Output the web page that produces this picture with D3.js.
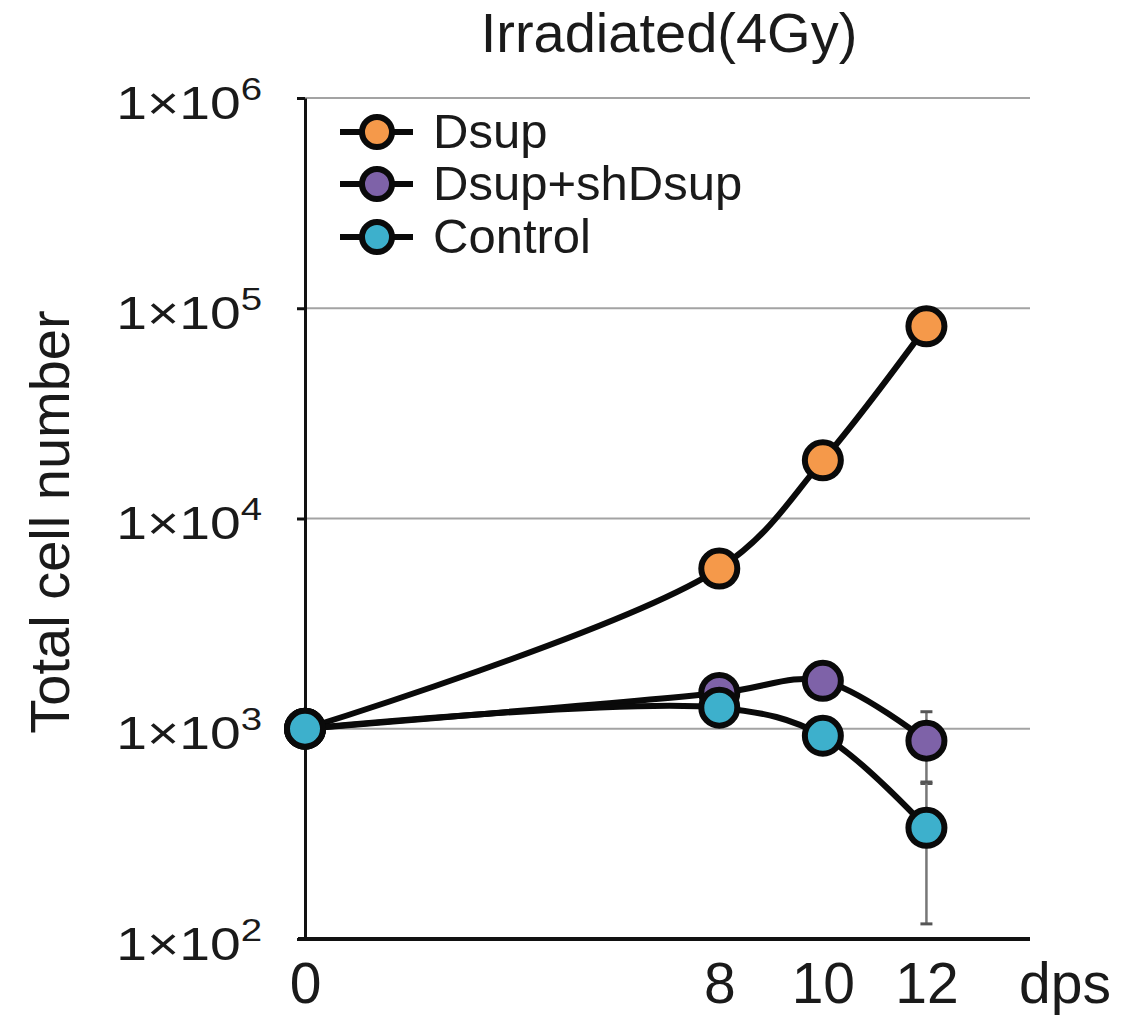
<!DOCTYPE html>
<html>
<head>
<meta charset="utf-8">
<script src="https://cdn.jsdelivr.net/npm/d3@7"></script>
<style>
  html, body { margin: 0; padding: 0; background: #fff; }
  svg { display: block; }
  text { font-family: "Liberation Sans", Arial, Helvetica, sans-serif; fill: #1a1a1a; }
</style>
</head>
<body>
<svg id="chart" width="1142" height="1015"></svg>
<script>
// ---- data ----
const days = [0, 8, 10, 12];
const xTickLabels = ["0", "8", "10", "12"];
const yTickValues = [1e2, 1e3, 1e4, 1e5, 1e6];
const yTickExponents = ["2", "3", "4", "5", "6"];
const seriesNames = ["Dsup", "Dsup+shDsup", "Control"];
const seriesColors = ["#F5994A", "#7E62A8", "#3DB0CC"];
const dsupValues = [1000, 5780, 18900, 82000];
const shDsupValues = [1000, 1480, 1690, 877];
const controlValues = [1000, 1260, 926, 338];
const dsupErrors = [0, 0, 0, 0];
const shDsupErrors = [0, 0, 0, 328];
const controlErrors = [0, 0, 0, 220];
const titleText = "Irradiated(4Gy)";
const yAxisTitle = "Total cell number";
const xUnitLabel = "dps";

const seriesValues = [dsupValues, shDsupValues, controlValues];
const seriesErrors = [dsupErrors, shDsupErrors, controlErrors];

// ---- layout ----
const svg = d3.select("#chart");
const x = d3.scaleLinear().domain([0, 14]).range([305, 1030]);
const y = d3.scaleLog().domain([1e2, 1e6]).range([939, 98]);

// gridlines
svg.append("g")
  .selectAll("line")
  .data(yTickValues.slice(1))
  .join("line")
  .attr("x1", x(0)).attr("x2", x(14))
  .attr("y1", d => y(d)).attr("y2", d => y(d))
  .attr("stroke", "#a3a3a3").attr("stroke-width", 2);

// y axis
const yAxis = d3.axisLeft(y).tickValues(yTickValues).tickSize(8).tickSizeOuter(0).tickFormat(() => "");
const gy = svg.append("g").attr("transform", `translate(${x(0)},0)`).call(yAxis);
gy.select(".domain").attr("stroke", "#111").attr("stroke-width", 3);
gy.selectAll(".tick line").attr("stroke", "#111").attr("stroke-width", 3);
gy.selectAll(".tick").each(function(d, i) {
  const g = d3.select(this).append("g").attr("transform", "translate(-43,20) scale(1.2,1)");
  const t = g.append("text").attr("text-anchor", "end").attr("font-size", 46);
  t.append("tspan").text("1×10");
  t.append("tspan").attr("dy", -19).attr("font-size", 32).text(yTickExponents[i]);
});

// x axis
const xAxis = d3.axisBottom(x).tickValues(days).tickSize(0).tickSizeOuter(0).tickFormat((d, i) => xTickLabels[i]);
const gx = svg.append("g").attr("transform", `translate(0,${y(1e2)})`).call(xAxis);
gx.select(".domain").attr("d", `M${x(0) - 7},0H${x(14)}`).attr("stroke", "#111").attr("stroke-width", 4);
gx.selectAll(".tick text").attr("font-size", 57).attr("dy", null).attr("y", 64).attr("fill", "#1a1a1a");

svg.append("text").attr("x", 1019).attr("y", 1003).attr("font-size", 57).text(xUnitLabel);

// title
svg.append("text").attr("x", 669).attr("y", 52).attr("text-anchor", "middle").attr("font-size", 56).text(titleText);

// y axis title
svg.append("text")
  .attr("transform", "translate(69,522) rotate(-90)")
  .attr("text-anchor", "middle").attr("font-size", 56).text(yAxisTitle);

// lines
const line = d3.line().x((d, i) => x(days[i])).y(d => y(d)).curve(d3.curveCatmullRom.alpha(0.5));
svg.append("g").selectAll("path")
  .data(seriesValues)
  .join("path")
  .attr("d", d => line(d))
  .attr("fill", "none").attr("stroke", "#0a0a0a").attr("stroke-width", 6)
  .attr("stroke-linejoin", "round");

// error bars
const eg = svg.append("g");
seriesValues.forEach((vals, s) => {
  vals.forEach((v, i) => {
    const e = seriesErrors[s][i];
    if (!e) return;
    const cx = x(days[i]);
    const yHi = y(v + e), yLo = y(Math.max(v - e, 1e2));
    eg.append("line").attr("x1", cx).attr("x2", cx).attr("y1", yHi).attr("y2", yLo)
      .attr("stroke", "#777").attr("stroke-width", 2.5);
    [yHi, yLo].forEach(yy => eg.append("line")
      .attr("x1", cx - 6).attr("x2", cx + 6).attr("y1", yy).attr("y2", yy)
      .attr("stroke", "#555").attr("stroke-width", 3));
  });
});

// markers
seriesValues.forEach((vals, s) => {
  svg.append("g").selectAll("circle")
    .data(vals)
    .join("circle")
    .attr("cx", (d, i) => x(days[i]))
    .attr("cy", d => y(d))
    .attr("r", 18)
    .attr("fill", seriesColors[s])
    .attr("stroke", "#0a0a0a").attr("stroke-width", 6);
});

// legend
const legendRows = [132, 184, 237];
const lg = svg.append("g");
seriesNames.forEach((name, i) => {
  const ry = legendRows[i];
  lg.append("line").attr("x1", 340).attr("x2", 413).attr("y1", ry).attr("y2", ry)
    .attr("stroke", "#0a0a0a").attr("stroke-width", 6);
  lg.append("circle").attr("cx", 377).attr("cy", ry).attr("r", 15)
    .attr("fill", seriesColors[i]).attr("stroke", "#0a0a0a").attr("stroke-width", 6);
  lg.append("text").attr("x", 433).attr("y", ry + 16).attr("font-size", 49).text(name);
});
</script>
</body>
</html>
